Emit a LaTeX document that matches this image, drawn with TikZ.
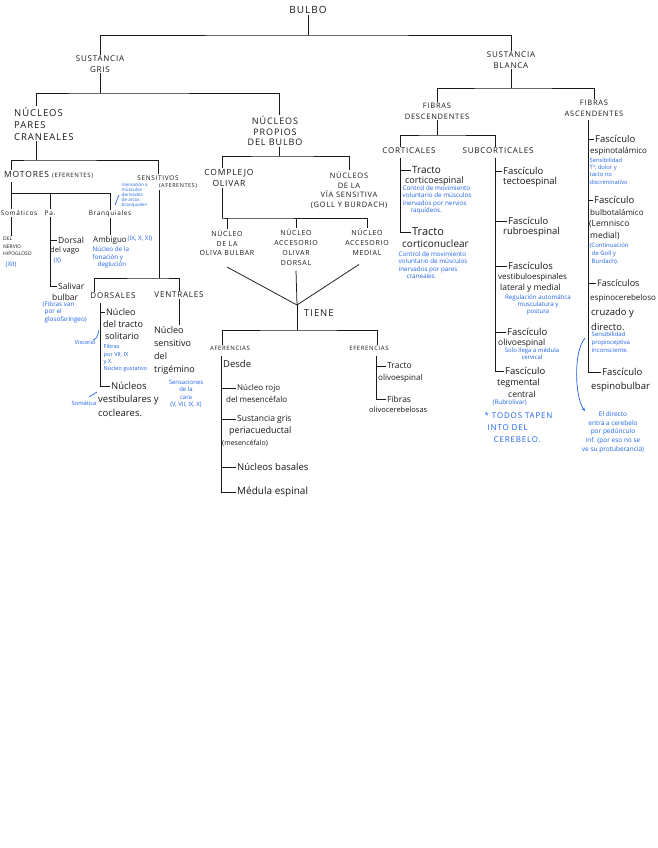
\documentclass[tikz,border=0pt]{standalone}
\usepackage{fontspec}
\setmainfont{Open Sans}
\newfontfamily\capsf[LetterSpace=10]{Open Sans}
\usetikzlibrary{calc,arrows.meta}
\definecolor{nblue}{RGB}{30,100,235}
\definecolor{ink}{RGB}{25,25,25}
\begin{document}
\begin{tikzpicture}[x=1pt,y=-1pt,
  ln/.style={draw=ink, line width=0.75pt},
  hd/.style={text=ink, font=\capsf\fontsize{8}{10}\selectfont, inner sep=1pt, align=center},
  sm/.style={text=ink, font=\fontsize{6}{7.5}\selectfont, inner sep=1pt, align=center},
  hw/.style={text=ink, font=\fontsize{9}{11}\selectfont, inner sep=1pt, anchor=west},
  nt/.style={text=nblue, font=\fontsize{6.3}{7.5}\selectfont, inner sep=0.5pt, align=left, anchor=north west},
  bl/.style={draw=nblue, line width=0.7pt},
]
\useasboundingbox[fill=white] (0,0) rectangle (657,848);

% ---------- top ----------
\node[hd, font=\capsf\fontsize{10}{11}\selectfont] (bulbo) at (308,10) {BULBO};
\node[hd, font=\capsf\fontsize{8}{10.5}\selectfont] (sg) at (100,64) {SUSTANCIA\\GRIS};
\node[hd, font=\capsf\fontsize{8}{10.5}\selectfont] (sb) at (511,60) {SUSTANCIA\\BLANCA};
\coordinate (bj) at (308,35);
\draw[ln] (bulbo.south) -- (bj);
\draw[ln] (sg.north) |- (bj) -| (sb.north);

% ---------- sustancia gris ----------
\node[hd, align=left, anchor=north west, font=\capsf\fontsize{9.5}{12}\selectfont] (npc) at (13,106) {NÚCLEOS\\PARES\\CRANEALES};
\node[hd, font=\capsf\fontsize{9}{10.5}\selectfont] (npb) at (275,131) {NÚCLEOS\\PROPIOS\\DEL BULBO};
\coordinate (gj) at (100,93);
\draw[ln] (sg.south) -- (gj);
\draw[ln] ($(npc.north west)+(23,0)$) |- (gj) -| ($(npb.north)+(4,0)$);

% pares craneales
\coordinate (pj) at (36,160);
\draw[ln] ($(npc.south west)+(23,0)$) -- (pj);
\node[hd, anchor=west, font=\capsf\fontsize{8.5}{10}\selectfont] (mot) at (3,175) {MOTORES {\fontsize{6}{6}\selectfont (EFERENTES)}};
\node[hd, font=\capsf\fontsize{6.5}{8}\selectfont] (sen) at (158,178) {SENSITIVOS};
\node[sm, font=\capsf\fontsize{5.5}{6}\selectfont] (senb) at (178,186) {(AFERENTES)};
\draw[ln] ($(mot.north west)+(8,0)$) |- (pj) -| (sen.north);

% motores
\coordinate (m0) at (11,182);
\coordinate (mj) at (11,193);
\node[hd, font=\capsf\fontsize{6.5}{8}\selectfont] (som) at (19,213) {Somáticos};
\node[hd, font=\capsf\fontsize{6.5}{8}\selectfont] (pa) at (50,213) {Pa.};
\node[hd, font=\capsf\fontsize{6.5}{8}\selectfont] (bra) at (110,214) {Branquiales};
\draw[ln] (m0) -- (m0 |- som.north);
\draw[ln] (mj) -| (bra.north);
\draw[ln] (pa.north |- mj) -- (pa.north);

\node[nt, font=\fontsize{4.6}{5.1}\selectfont] (nbra) at (121,182) {inervación a\\músculos\\derivados\\de arcos\\branquiales};
\draw[bl] (119,195) -- (115,205);

\node[sm, font=\fontsize{5}{7.5}\selectfont, align=left, anchor=north west] (hip) at (2,236) {DEL\\NERVIO\\HIPOGLOSO};
\draw[ln] (som.south -| m0) -- (hip.north -| m0);
\node[nt, anchor=west] (xii) at (5,265) {(XII)};

\node[hw, font=\fontsize{8.5}{10}\selectfont] (dor) at (57,240) {Dorsal};
\node[hw, font=\fontsize{7.5}{9}\selectfont] (dorb) at (49,251) {del vago};
\node[nt, anchor=west] (xx) at (53,261) {(X)};
\node[hw, font=\fontsize{8.5}{10}\selectfont] (sal) at (57,286) {Salivar};
\node[hw, font=\fontsize{8.5}{10}\selectfont] (salb) at (51,297) {bulbar};
\node[nt] (nsal) at (42,301) {(Fibras van\\\hspace{2pt}por el\\\hspace{2pt}glosofaríngeo)};
\draw[ln] (pa.south) |- (sal.west);
\draw[ln] (dor.west -| pa.south) -- (dor.west);

\node[hw, anchor=center, font=\fontsize{8}{10}\selectfont] (amb) at (110,240) {Ambiguo};
\node[nt, anchor=west] (ambn) at (127,239) {(IX, X, XI)};
\draw[ln] (bra.south) -- (amb.north);
\node[nt] (nfon) at (92,246) {Núcleo de la\\fonación y\\\hspace{5pt}deglución};

% sensitivos
\coordinate (s0) at (159,190);
\coordinate (sj) at (159,278);
\draw[ln] (s0) -- (sj);
\node[hd, font=\capsf\fontsize{8}{10}\selectfont] (dors) at (113,296) {DORSALES};
\node[hd, font=\capsf\fontsize{8}{10}\selectfont] (vent) at (179,295) {VENTRALES};
\draw[ln] ($(dors.north west)+(5,0)$) |- (sj) -| (vent.north);

\coordinate (d0) at (100,303);
\node[hw] (nts) at (105,312) {Núcleo};
\node[hw] (ntsb) at (102,324) {del tracto};
\node[hw] (ntsc) at (104,336) {solitario};
\node[nt, font=\fontsize{5.6}{7.2}\selectfont] (ngus) at (103,344) {Fibras\\por VII, IX\\y X.\\Núcleo gustativo};
\node[nt, anchor=center, font=\fontsize{5.8}{7}\selectfont] (visc) at (85,342) {Visceral};
\draw[bl] (93,340) .. controls (97,338) .. (99,330);
\node[hw, font=\fontsize{9.5}{11}\selectfont] (nvest) at (110,386) {Núcleos};
\node[hw, font=\fontsize{9.5}{11}\selectfont] (nvestb) at (97,400) {vestibulares y};
\node[hw, font=\fontsize{9.5}{11}\selectfont] (nvestc) at (97,413) {cocleares.};
\node[nt, anchor=center, font=\fontsize{5.8}{7}\selectfont] (soma) at (84,403) {Somática};
\draw[bl] (89,397) -- (97,392);
\draw[ln] (d0) |- (nvest.west);
\draw[ln] (nts.west -| d0) -- (nts.west);

\node[hw, anchor=north west, align=left, font=\fontsize{9}{13}\selectfont] (ntrig) at (153,325) {Núcleo\\sensitivo\\del\\trigémino};
\draw[ln] (vent.south) -- (vent.south |- ntrig.north);
\node[nt, anchor=north, align=center, font=\fontsize{6}{7.5}\selectfont] (ncara) at (186,379) {Sensaciones\\de la\\cara\\(V, VII, IX, X)};

% ---------- nucleos propios ----------
\coordinate (bj2) at (279,156);
\draw[ln] ($(npb.south)+(4,0)$) -- (bj2);
\node[hd, font=\capsf\fontsize{8.5}{10.5}\selectfont] (co) at (229,178) {COMPLEJO\\OLIVAR};
\node[hd, font=\capsf\fontsize{7.5}{9.5}\selectfont] (nvs) at (349,190) {NÚCLEOS\\DE LA\\VÍA SENSITIVA\\(GOLL Y BURDACH)};
\draw[ln] ($(co.north)+(-7,0)$) |- (bj2) -| (nvs.north);

\coordinate (oj) at (222,218);
\draw[ln] ($(co.south)+(-7,0)$) -- (oj);
\node[hd, font=\capsf\fontsize{7}{9.5}\selectfont] (nob) at (227,243) {NÚCLEO\\DE LA\\OLIVA BULBAR};
\node[hd, font=\capsf\fontsize{7}{10}\selectfont] (nad) at (296,247) {NÚCLEO\\ACCESORIO\\OLIVAR\\DORSAL};
\node[hd, font=\capsf\fontsize{7}{10}\selectfont] (nam) at (367,242) {NÚCLEO\\ACCESORIO\\MEDIAL};
\draw[ln] (nob.north) |- (oj) -| (nam.north);
\draw[ln] (nad.north) -- (nad.north |- oj);

\coordinate (cv) at (297,305);
\draw[ln] ([yshift=-10pt]nob.south) -- (cv);
\draw[ln] ([yshift=-4pt]nad.south) -- (cv);
\draw[ln] ([yshift=-8pt,xshift=-8pt]nam.south) -- (cv);
\node[hd, anchor=west, font=\capsf\fontsize{9.5}{11}\selectfont] (tiene) at (303,313) {TIENE};
\coordinate (tj) at (297,330);
\draw[ln] (cv) -- (tj);
\node[hd, font=\capsf\fontsize{6}{7}\selectfont] (afe) at (230,348) {AFERENCIAS};
\node[hd, font=\capsf\fontsize{6}{7}\selectfont] (efe) at (369,348) {EFERENCIAS};
\draw[ln] ($(afe.north)+(-8,0)$) |- (tj) -| ($(efe.north)+(8,0)$);

% aferencias
\coordinate (a0) at (221,356);
\node[hw, font=\fontsize{9.5}{11}\selectfont] (desde) at (222,364) {Desde};
\node[hw, font=\fontsize{8}{10}\selectfont] (nr1) at (236,388) {Núcleo rojo};
\node[hw, font=\fontsize{8}{10}\selectfont] (nr2) at (225,399) {del mesencéfalo};
\node[hw, font=\fontsize{8.5}{10}\selectfont] (sgp) at (236,419) {Sustancia gris};
\node[hw, font=\fontsize{9}{10}\selectfont] (sgpb) at (228,431) {periacueductal};
\node[hw, font=\fontsize{7}{9}\selectfont] (sgpc) at (221,443) {(mesencéfalo)};
\node[hw, font=\fontsize{9.5}{11}\selectfont] (nbas) at (236,467) {Núcleos basales};
\node[hw, font=\fontsize{10}{12}\selectfont] (mesp) at (236,492) {Médula espinal};
\draw[ln] (a0) |- (mesp.west);
\draw[ln] (nr1.west -| a0) -- (nr1.west);
\draw[ln] (sgp.west -| a0) -- (sgp.west);
\draw[ln] (nbas.west -| a0) -- (nbas.west);

% eferencias
\coordinate (e0) at (376,356);
\node[hw, font=\fontsize{8.5}{10}\selectfont] (tol) at (386,366) {Tracto};
\node[hw, font=\fontsize{8}{10}\selectfont] (tolb) at (377,378) {olivoespinal};
\node[hw, font=\fontsize{8.5}{10}\selectfont] (fol) at (386,399) {Fibras};
\node[hw, font=\fontsize{7.5}{10}\selectfont] (folb) at (368,410) {olivocerebelosas};
\draw[ln] (e0) |- (fol.west);
\draw[ln] (tol.west -| e0) -- (tol.west);

% ---------- sustancia blanca ----------
\coordinate (wj) at (511,88);
\draw[ln] (sb.south) -- (wj);
\node[hd, font=\capsf\fontsize{7.5}{11}\selectfont] (fd) at (437,111) {FIBRAS\\DESCENDENTES};
\node[hd, font=\capsf\fontsize{7.5}{11}\selectfont] (fa) at (594,108) {FIBRAS\\ASCENDENTES};
\draw[ln] (fd.north) |- (wj) -| (fa.north);

\coordinate (dj) at (437,135);
\draw[ln] (fd.south) -- (dj);
\node[hd, font=\capsf\fontsize{8}{9}\selectfont] (cor) at (409,151) {CORTICALES};
\node[hd, font=\capsf\fontsize{8}{9}\selectfont] (sub) at (498,151) {SUBCORTICALES};
\draw[ln] ($(cor.north)+(-9,0)$) |- (dj) -| ($(sub.north)+(-3,0)$);

% corticales
\coordinate (k0) at (400,158);
\node[hw, font=\fontsize{10}{12}\selectfont] (tr1) at (411,170) {Tracto};
\node[hw] (tr1b) at (404,181) {corticoespinal};
\node[nt] (ntr1) at (402,185) {Control de movimiento\\voluntario de músculos\\inervados por nervios\\\hspace{8pt}raquídeos.};
\node[hw, font=\fontsize{11}{13}\selectfont] (tr2) at (411,232) {Tracto};
\node[hw, font=\fontsize{10}{12}\selectfont] (tr2b) at (401,244) {corticonuclear};
\node[nt] (ntr2) at (398,251) {Control de movimiento\\voluntario de músculos\\inervados por pares\\\hspace{8pt}craneales.};
\draw[ln] (k0) |- (tr2.west);
\draw[ln] (tr1.west -| k0) -- (tr1.west);

% subcorticales
\coordinate (u0) at (495,158);
\node[hw, font=\fontsize{9.5}{11}\selectfont] (f1) at (502,171) {Fascículo};
\node[hw, font=\fontsize{9.5}{11}\selectfont] (f1b) at (502,182) {tectoespinal};
\node[hw, font=\fontsize{9.5}{11}\selectfont] (f2) at (507,221) {Fascículo};
\node[hw, font=\fontsize{9.5}{11}\selectfont] (f2b) at (502,232) {rubroespinal};
\node[hw, font=\fontsize{9.5}{11}\selectfont] (f3) at (507,266) {Fascículos};
\node[hw, font=\fontsize{8}{10}\selectfont] (f3b) at (497,277) {vestibuloespinales};
\node[hw, font=\fontsize{8.5}{10}\selectfont] (f3c) at (499,288) {lateral y medial};
\node[nt, anchor=north, align=center, font=\fontsize{6.2}{7.2}\selectfont] (nf3) at (538,294) {Regulación automática\\musculatura y\\postura};
\node[hw, font=\fontsize{9.5}{11}\selectfont] (f4) at (506,332) {Fascículo};
\node[hw, font=\fontsize{8.5}{10}\selectfont] (f4b) at (497,343) {olivoespinal};
\node[nt, anchor=north, align=center, font=\fontsize{6}{7}\selectfont] (nf4) at (532,347) {Solo llega a médula\\cervical};
\node[hw, font=\fontsize{9.5}{11}\selectfont] (f5) at (504,371) {Fascículo};
\node[hw, font=\fontsize{9}{11}\selectfont] (f5b) at (496,383) {tegmental};
\node[hw, font=\fontsize{8.5}{10}\selectfont] (f5c) at (507,394) {central};
\node[nt, anchor=west] (nf5) at (492,403) {(Rubrolivar)};
\draw[ln] (u0) |- (f5.west);
\draw[ln] (f1.west -| u0) -- (f1.west);
\draw[ln] (f2.west -| u0) -- (f2.west);
\draw[ln] (f3.west -| u0) -- (f3.west);
\draw[ln] (f4.west -| u0) -- (f4.west);

\node[nt, font=\capsf\fontsize{8}{12}\selectfont] (todos) at (484,412) {* TODOS TAPEN\\\hspace{3pt}INTO DEL\\\hspace{9pt}CEREBELO.};

% ascendentes
\coordinate (v0) at (588,120);
\node[hw, font=\fontsize{9.5}{11}\selectfont] (a1) at (594,139) {Fascículo};
\node[hw, font=\fontsize{8}{10}\selectfont] (a1b) at (589,151) {espinotalámico};
\node[nt, font=\fontsize{5.8}{7.3}\selectfont] (na1) at (589,157) {Sensibilidad\\Tª, dolor y\\tacto no\\discriminativo};
\node[hw, font=\fontsize{9.5}{11}\selectfont] (a2) at (593,200) {Fascículo};
\node[hw, font=\fontsize{8}{10}\selectfont] (a2b) at (589,212) {bulbotalámico};
\node[hw, font=\fontsize{8.5}{10}\selectfont] (a2c) at (588,224) {(Lemnisco};
\node[hw, font=\fontsize{8.5}{10}\selectfont] (a2d) at (589,236) {medial)};
\node[nt, font=\fontsize{6}{8}\selectfont] (na2) at (589,242) {(Continuación\\\hspace{2pt}de Goll y\\\hspace{2pt}Burdach).};
\node[hw, font=\fontsize{9}{11}\selectfont] (a3) at (596,283) {Fascículos};
\node[hw, font=\fontsize{8}{10}\selectfont] (a3b) at (589,298) {espinocerebeloso};
\node[hw, font=\fontsize{9.5}{11}\selectfont] (a3c) at (590,313) {cruzado y};
\node[hw, font=\fontsize{9.5}{11}\selectfont] (a3d) at (590,327) {directo.};
\node[nt, font=\fontsize{6}{8}\selectfont] (na3) at (591,331) {Sensibilidad\\propioceptiva\\inconsciente.};
\node[hw, font=\fontsize{9.5}{11}\selectfont] (a4) at (601,372) {Fascículo};
\node[hw, font=\fontsize{9.5}{11}\selectfont] (a4b) at (590,387) {espinobulbar};
\draw[ln] (v0) |- (a4.west);
\draw[ln] (a1.west -| v0) -- (a1.west);
\draw[ln] (a2.west -| v0) -- (a2.west);
\draw[ln] (a3.west -| v0) -- (a3.west);

\node[nt, anchor=north, align=center, font=\fontsize{6.5}{8.6}\selectfont] (ndir) at (613,411) {El directo\\entra a cerebelo\\por pedúnculo\\inf. (por eso no se\\ve su protuberancia)};
\coordinate (arS) at (585,338);
\coordinate (arE) at (585,411);
\draw[bl, -{Stealth[length=3.5pt,width=3pt]}] (arS) .. controls (573,352) and (575,398) .. (arE);

\end{tikzpicture}
\end{document}
